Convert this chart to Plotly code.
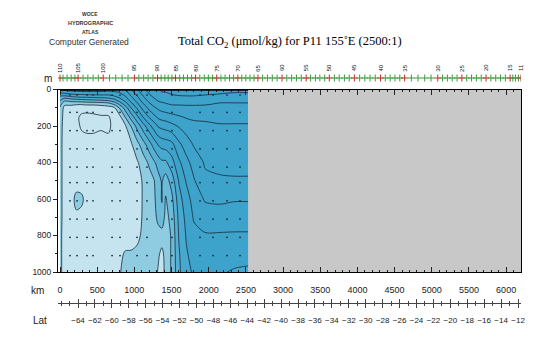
import plotly.graph_objects as go

# ---------------- data ----------------
DIST_KM = [0, 60, 150, 220, 290, 360, 450, 550, 650, 730, 800, 880, 960, 1040,
           1120, 1200, 1260, 1320, 1370, 1420, 1500, 1600, 1700, 1800, 1950,
           2150, 2350, 2530]
DEPTH_M = [0, 20, 40, 60, 80, 100, 150, 200, 300, 400, 500, 600, 700, 800, 900, 1000]

# one TCO2 profile (umol/kg) per distance, surface to 1000 m
TCO2_PROFILES = [
    [2200, 2212, 2222, 2229, 2236, 2241, 2243, 2245, 2246, 2246, 2246, 2246, 2246, 2247, 2247, 2247],  # 0
    [2197, 2209, 2224, 2238, 2248, 2253, 2255, 2255, 2255, 2255, 2255, 2255, 2255, 2255, 2255, 2255],  # 60
    [2196, 2206, 2221, 2236, 2248, 2254, 2257, 2257, 2256, 2255, 2255, 2254, 2254, 2255, 2255, 2256],  # 150
    [2195, 2205, 2219, 2235, 2249, 2255, 2258, 2258, 2256, 2255, 2255, 2247, 2252, 2255, 2256, 2256],  # 220
    [2195, 2205, 2218, 2234, 2249, 2256, 2262, 2261, 2257, 2256, 2255, 2248, 2253, 2256, 2256, 2256],  # 290
    [2195, 2204, 2218, 2233, 2248, 2256, 2263, 2262, 2257, 2256, 2255, 2254, 2255, 2256, 2256, 2256],  # 360
    [2195, 2204, 2217, 2232, 2248, 2256, 2262, 2262, 2257, 2256, 2256, 2255, 2255, 2256, 2256, 2256],  # 450
    [2195, 2204, 2216, 2231, 2247, 2255, 2261, 2261, 2257, 2256, 2256, 2256, 2256, 2256, 2256, 2256],  # 550
    [2196, 2205, 2215, 2229, 2245, 2254, 2261, 2262, 2257, 2256, 2256, 2256, 2256, 2256, 2256, 2256],  # 650
    [2196, 2203, 2212, 2224, 2238, 2251, 2256, 2257, 2256, 2256, 2256, 2256, 2256, 2256, 2256, 2256],  # 730
    [2194, 2201, 2207, 2216, 2228, 2239, 2253, 2254, 2256, 2256, 2256, 2256, 2256, 2255, 2252, 2251],  # 800
    [2191, 2195, 2201, 2207, 2215, 2225, 2239, 2251, 2254, 2255, 2256, 2256, 2256, 2255, 2249, 2246],  # 880
    [2181, 2185, 2191, 2196, 2203, 2209, 2225, 2239, 2251, 2254, 2255, 2255, 2255, 2254, 2249, 2246],  # 960
    [2171, 2175, 2181, 2186, 2192, 2198, 2212, 2226, 2243, 2251, 2253, 2254, 2253, 2252, 2248, 2246],  # 1040
    [2162, 2166, 2171, 2175, 2181, 2186, 2199, 2214, 2234, 2245, 2249, 2249, 2249, 2248, 2247, 2246],  # 1120
    [2156, 2159, 2163, 2167, 2172, 2177, 2189, 2203, 2224, 2238, 2245, 2246, 2246, 2246, 2246, 2245],  # 1200
    [2152, 2156, 2159, 2163, 2167, 2172, 2183, 2196, 2216, 2232, 2241, 2242, 2243, 2244, 2245, 2245],  # 1260
    [2151, 2153, 2156, 2159, 2164, 2168, 2178, 2189, 2209, 2226, 2234, 2236, 2238, 2243, 2248, 2251],  # 1320
    [2148, 2151, 2154, 2158, 2162, 2166, 2176, 2187, 2206, 2222, 2229, 2229, 2234, 2244, 2253, 2256],  # 1370
    [2147, 2151, 2153, 2157, 2161, 2165, 2175, 2186, 2205, 2222, 2235, 2241, 2243, 2245, 2246, 2246],  # 1420
    [2146, 2149, 2152, 2156, 2159, 2164, 2173, 2183, 2203, 2214, 2226, 2233, 2237, 2239, 2239, 2239],  # 1500
    [2145, 2148, 2151, 2155, 2159, 2163, 2171, 2179, 2192, 2202, 2209, 2214, 2217, 2219, 2221, 2222],  # 1600
    [2144, 2147, 2151, 2155, 2159, 2162, 2169, 2175, 2185, 2193, 2199, 2204, 2207, 2209, 2211, 2212],  # 1700
    [2143, 2147, 2151, 2155, 2159, 2162, 2168, 2173, 2179, 2186, 2191, 2196, 2199, 2203, 2206, 2209],  # 1800
    [2143, 2148, 2152, 2156, 2159, 2163, 2168, 2172, 2176, 2179, 2182, 2189, 2195, 2201, 2205, 2209],  # 1950
    [2141, 2149, 2154, 2158, 2161, 2163, 2167, 2171, 2175, 2178, 2181, 2188, 2195, 2201, 2205, 2209],  # 2150
    [2144, 2151, 2154, 2158, 2161, 2163, 2167, 2171, 2174, 2177, 2181, 2189, 2196, 2201, 2206, 2211],  # 2350
    [2142, 2151, 2154, 2158, 2161, 2163, 2167, 2171, 2174, 2177, 2181, 2189, 2196, 2201, 2206, 2212],  # 2530
]

CONTOUR_START = 2150
CONTOUR_END = 2260
CONTOUR_STEP = 10

# bottle sample positions (dots)
SAMPLE_KM = [134, 229, 363, 444, 700, 807, 1036, 1170, 1506, 1883, 2058, 2246, 2421]
SAMPLE_DEPTH_M = [30, 125, 225, 325, 425, 510, 610, 710, 810, 910]

# station positions along the section (top axis)
STATION_NO = list(range(110, 10, -1))
STATION_KM = [0, 40, 95, 150, 200, 243, 310, 375, 445, 515, 581, 665, 750, 835, 915,
              1000, 1060, 1125, 1185, 1250, 1311, 1360, 1410, 1455, 1505, 1554, 1610,
              1660, 1715, 1770, 1824, 1880, 1940, 1995, 2050, 2108, 2165, 2220, 2280,
              2335, 2392, 2445, 2500, 2555, 2610, 2662, 2725, 2790, 2855, 2920, 2986,
              3050, 3115, 3180, 3245, 3311, 3370, 3435, 3495, 3560, 3622, 3690, 3755,
              3825, 3890, 3959, 4030, 4100, 4170, 4240, 4311, 4375, 4440, 4505, 4570,
              4635, 4725, 4815, 4905, 4990, 5081, 5145, 5210, 5275, 5340, 5405, 5470,
              5535, 5600, 5665, 5730, 5795, 5860, 5925, 5990, 6054, 6090, 6125, 6165,
              6200]

LAT_TICKS = [-64, -62, -60, -58, -56, -54, -52, -50, -48, -46, -44, -42, -40, -38,
             -36, -34, -32, -30, -28, -26, -24, -22, -20, -18, -16, -14, -12]

KM_RANGE = [-27, 6200]
DEPTH_RANGE = [1000, 0]
LAT_AT_0KM = -66.13
LAT_PER_KM = 0.008787

# ---------------- figure ----------------
z = [list(row) for row in zip(*TCO2_PROFILES)]

n_levels = int(round((CONTOUR_END - CONTOUR_START) / CONTOUR_STEP)) + 1
lo = CONTOUR_START - CONTOUR_STEP
span = n_levels * CONTOUR_STEP


def f(v):
    return (v - lo) / span


band_colors = [
    (2210, '#3ea3cb'),
    (2220, '#47a9cf'),
    (2230, '#55b0d3'),
    (2240, '#6cbcd9'),
    (2250, '#8fcce1'),
    (None, '#c6e4ef'),
]
cs = []
prev = 0.0
for edge, col in band_colors:
    end = 1.0 if edge is None else f(edge)
    cs.append([prev, col])
    cs.append([end, col])
    prev = end

fig = go.Figure()

fig.add_trace(go.Contour(
    x=DIST_KM, y=DEPTH_M, z=z,
    contours=dict(start=CONTOUR_START, end=CONTOUR_END, size=CONTOUR_STEP,
                  coloring='fill', showlines=True),
    line=dict(color='#18293a', width=0.8, smoothing=0.9),
    colorscale=cs, showscale=False, hoverinfo='skip',
))

sx, sy = [], []
for km in SAMPLE_KM:
    for d in SAMPLE_DEPTH_M:
        sx.append(km)
        sy.append(d)
fig.add_trace(go.Scatter(x=sx, y=sy, mode='markers',
                         marker=dict(size=1.7, color='#10202c'),
                         hoverinfo='skip', showlegend=False))

labeled = [(no % 5 == 0) or (no == STATION_NO[-1]) for no in STATION_NO]
fig.add_trace(go.Scatter(
    x=STATION_KM, y=[0.5] * len(STATION_KM), yaxis='y2', mode='markers',
    marker=dict(symbol='cross-thin', size=5,
                line=dict(width=1, color=['#c42a2a' if l else '#3c9a3c' for l in labeled])),
    hoverinfo='skip', showlegend=False))

# lat axis helper traces (invisible) to activate axes
lat_range = [LAT_AT_0KM + KM_RANGE[0] * LAT_PER_KM, LAT_AT_0KM + KM_RANGE[1] * LAT_PER_KM]
for ax in ('x2', 'x3'):
    fig.add_trace(go.Scatter(x=[lat_range[0]], y=[0], xaxis=ax, mode='markers',
                             marker=dict(size=0.1, opacity=0), hoverinfo='skip',
                             showlegend=False))

# gray no-data region and top surface line
fig.add_shape(type='rect', x0=DIST_KM[-1], x1=KM_RANGE[1], y0=DEPTH_M[0], y1=DEPTH_M[-1],
              xref='x', yref='y', fillcolor='#c8c8c8', line=dict(width=0), layer='below')
fig.add_shape(type='line', x0=DIST_KM[0], x1=DIST_KM[-1], y0=DEPTH_M[0], y1=DEPTH_M[0],
              xref='x', yref='y', line=dict(color='black', width=2.5))

TOP, BOT = 60, 40
H = 350 - TOP - BOT


def py(pix):
    return (350 - BOT - pix) / H


L, R = 58, 29
W = 550 - L - R


def px(pix):
    return (pix - L) / W


tickfont = dict(family='Liberation Sans, Arial, sans-serif', size=9, color='#222')

fig.update_layout(
    width=550, height=350,
    margin=dict(l=L, r=R, t=TOP, b=BOT, pad=0),
    paper_bgcolor='white', plot_bgcolor='white',
    showlegend=False,
    xaxis=dict(range=KM_RANGE, domain=[0, 1], anchor='y', tick0=0, dtick=500,
               tickformat='d', ticks='inside', ticklen=5, tickcolor='#222',
               minor=dict(dtick=100, ticks='inside', ticklen=2.5, tickcolor='#222'),
               showline=True, linecolor='black', linewidth=1, mirror='ticks',
               showgrid=False, zeroline=False, tickfont=tickfont,
               ticklabelstandoff=9, tickangle=0),
    yaxis=dict(range=DEPTH_RANGE, domain=[py(272), py(89.5)], anchor='x',
               tick0=0, dtick=200, ticks='outside', ticklen=4, tickcolor='#222',
               minor=dict(dtick=100, ticks='outside', ticklen=2, tickcolor='#222'),
               showline=True, linecolor='black', linewidth=1, mirror=True,
               showgrid=False, zeroline=False,
               tickfont=dict(family='Liberation Sans, Arial, sans-serif', size=8.5, color='#222')),
    yaxis2=dict(domain=[py(84), py(72)], range=[0, 1], anchor='x', visible=False),
    xaxis2=dict(range=lat_range, overlaying='x', anchor='free', position=py(303),
                side='bottom', tickmode='array', tickvals=LAT_TICKS,
                ticks='outside', ticklen=4, tickcolor='#444',
                minor=dict(dtick=1, ticks='outside', ticklen=2, tickcolor='#444'),
                showline=True, linecolor='#444', linewidth=1, showgrid=False,
                zeroline=False, tickangle=0, ticklabelstandoff=5,
                tickfont=dict(family='Liberation Sans, Arial, sans-serif', size=8, color='#222')),
    xaxis3=dict(range=lat_range, overlaying='x', anchor='free', position=py(303),
                side='bottom', tickmode='array', tickvals=LAT_TICKS,
                ticks='inside', ticklen=4, tickcolor='#444',
                minor=dict(dtick=1, ticks='inside', ticklen=2, tickcolor='#444'),
                showline=False, showticklabels=False, showgrid=False, zeroline=False),
)

ann = []
for no, km, lab in zip(STATION_NO, STATION_KM, labeled):
    if lab:
        ann.append(dict(x=km, y=py(68), xref='x', yref='paper', text=str(no),
                        showarrow=False, textangle=-90,
                        font=dict(family='Liberation Sans, Arial, sans-serif', size=6, color='#111'),
                        xanchor='center', yanchor='middle'))

lab_font = dict(family='Liberation Sans, Arial, sans-serif', size=10, color='#222')
ann += [
    dict(x=px(48), y=py(79), xref='paper', yref='paper', text='m', showarrow=False,
         font=lab_font, xanchor='center', yanchor='middle'),
    dict(x=px(37), y=py(290), xref='paper', yref='paper', text='km', showarrow=False,
         font=lab_font, xanchor='center', yanchor='middle'),
    dict(x=px(40), y=py(320), xref='paper', yref='paper', text='Lat', showarrow=False,
         font=lab_font, xanchor='center', yanchor='middle'),
    dict(x=px(90), y=py(14), xref='paper', yref='paper', text='<b>WOCE</b>', showarrow=False,
         font=dict(family='Liberation Sans, Arial, sans-serif', size=5, color='#333'),
         xanchor='center', yanchor='middle'),
    dict(x=px(90), y=py(23), xref='paper', yref='paper', text='<b>HYDROGRAPHIC</b>', showarrow=False,
         font=dict(family='Liberation Sans, Arial, sans-serif', size=5.5, color='#333'),
         xanchor='center', yanchor='middle'),
    dict(x=px(90), y=py(32), xref='paper', yref='paper', text='<b>ATLAS</b>', showarrow=False,
         font=dict(family='Liberation Sans, Arial, sans-serif', size=5, color='#333'),
         xanchor='center', yanchor='middle'),
    dict(x=px(89), y=py(42), xref='paper', yref='paper', text='Computer Generated', showarrow=False,
         font=dict(family='Liberation Sans, Arial, sans-serif', size=8.5, color='#333'),
         xanchor='center', yanchor='middle'),
    dict(x=px(290), y=py(42), xref='paper', yref='paper',
         text='Total CO<sub>2</sub> (μmol/kg) for P11 155˚E (2500:1)', showarrow=False,
         font=dict(family='Liberation Serif, Times New Roman, serif', size=12.5, color='#000'),
         xanchor='center', yanchor='middle'),
]
fig.update_layout(annotations=ann)

fig.write_html('out.html')
